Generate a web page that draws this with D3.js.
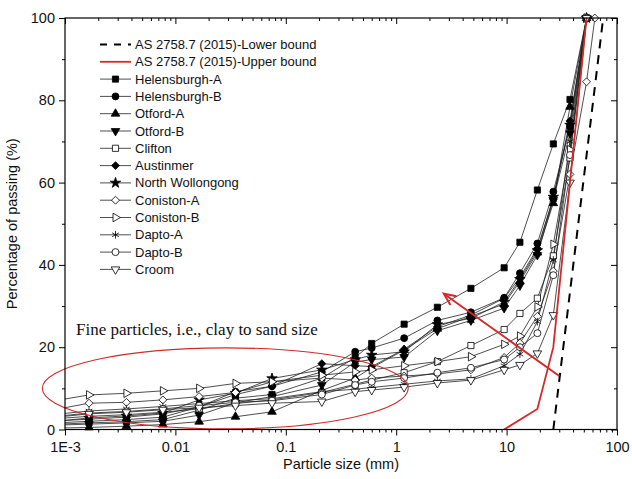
<!DOCTYPE html>
<html>
<head>
<meta charset="utf-8">
<script src="https://cdn.jsdelivr.net/npm/d3@7"></script>
<style>
  html, body { margin: 0; padding: 0; background: #fff; }
  svg { display: block; font-family: Arial, "Liberation Sans", sans-serif; }
</style>
</head>
<body>
<svg id="chart" width="632" height="479"></svg>
<script>
// Sieve / hydrometer sizes (mm) shared by every sample
const sizes = [0.0007, 0.00165, 0.0036, 0.0077, 0.0164, 0.035, 0.075, 0.212, 0.425, 0.6,
               1.18, 2.36, 4.75, 9.5, 13.2, 19, 26.5, 37.5, 53, 63];

// Percentage passing for each sample (null = not measured)
const helensburghA = [1.2, 1.6, 1.9, 2.4, 4.7, 7.6, 8.5, 12.5, 17.5, 20.9, 25.6, 29.7, 34.3, 39.3, 45.5, 58.2, 69.4, 80.2, 100, null];
const helensburghB = [1.5, 2.0, 2.4, 3.0, 5.5, 9.2, 10.5, 14.0, 18.9, 19.8, 22.2, 26.5, 28.5, 32.0, 38.0, 45.2, 57.8, 73.6, 100, null];
const otfordA      = [0.3, 0.5, 0.8, 1.2, 1.9, 3.1, 4.3, 9.5, 12.5, 15.0, 19.3, 24.5, 27.5, 30.5, 36.0, 43.0, 55.0, 78.4, 100, null];
const otfordB      = [1.0, 1.3, 1.6, 2.0, 3.5, 6.5, 8.0, 10.8, 16.4, 17.0, 17.6, 24.0, 26.5, 29.5, 35.0, 42.4, 55.8, 72.0, 100, null];
const clifton      = [2.5, 3.2, 3.6, 4.2, 5.0, 6.3, 7.2, 9.0, 11.0, 12.0, 13.8, 16.5, 20.4, 24.3, 28.2, 31.9, 42.2, 66.0, 100, null];
const austinmer    = [2.0, 2.5, 3.0, 3.8, 5.5, 8.5, 10.5, 16.0, 15.5, 15.3, 19.5, 25.0, 27.8, 31.9, 37.0, 44.0, 56.0, 75.0, 100, null];
const northWoll    = [1.8, 2.8, 3.3, 4.0, 7.2, 8.8, 12.4, 14.5, 17.0, 18.1, 18.9, 25.5, 27.0, 31.0, 36.5, 43.5, 56.5, 74.0, 100, null];
const conistonA    = [4.5, 6.4, 6.6, 7.2, 8.0, 9.0, 11.6, 12.5, 12.0, 12.5, 13.0, 13.5, 14.5, 17.5, 21.0, 27.5, 38.5, 62.0, 84.5, 100];
const conistonB    = [6.7, 8.4, 8.8, 9.4, 10.0, 11.2, 11.6, 13.2, 14.0, 14.5, 15.5, 16.5, 17.7, 20.7, 22.7, 29.8, 45.0, 68.0, 100, null];
const daptoA       = [3.5, 4.5, 5.0, 5.6, 6.3, 7.0, 7.5, 9.2, 9.8, 10.2, 11.0, 11.8, 12.3, 15.5, 18.3, 26.2, 41.2, 70.0, 100, null];
const daptoB       = [3.0, 4.0, 4.4, 5.0, 5.8, 6.6, 7.0, 8.5, 10.8, 11.6, 12.5, 13.8, 15.0, 17.0, 20.0, 23.4, 37.5, 66.7, 100, null];
const croom        = [2.8, 3.8, 4.2, 4.8, 5.3, 5.8, 6.4, 6.8, 9.2, 9.6, 10.3, 11.3, 12.0, 14.5, 15.7, 18.5, 27.8, 60.0, 100, null];

// AS 2758.7 (2015) grading envelope
const lowerBoundSize = [26.5, 75];
const lowerBoundPass = [0, 100];
const upperBoundSize = [9.5, 19, 26.5, 37.5, 53];
const upperBoundPass = [0, 5, 20, 60, 100];

const seriesNames = ["Helensburgh-A", "Helensburgh-B", "Otford-A", "Otford-B", "Clifton", "Austinmer",
                     "North Wollongong", "Coniston-A", "Coniston-B", "Dapto-A", "Dapto-B", "Croom"];
const seriesValues = [helensburghA, helensburghB, otfordA, otfordB, clifton, austinmer,
                      northWoll, conistonA, conistonB, daptoA, daptoB, croom];

const xTickValues = [0.001, 0.01, 0.1, 1, 10, 100];
const xTickLabels = ["1E-3", "0.01", "0.1", "1", "10", "100"];
const yTickValues = [0, 20, 40, 60, 80, 100];

const annotation = "Fine particles, i.e., clay to sand size";

// marker styles: [symbol type, filled, rotation]
const markerStyles = [
  [d3.symbolSquare, true, 0],
  [d3.symbolCircle, true, 0],
  [d3.symbolTriangle, true, 0],
  [d3.symbolTriangle, true, 180],
  [d3.symbolSquare, false, 0],
  [d3.symbolDiamond2, true, 0],
  [d3.symbolStar, true, 0],
  [d3.symbolDiamond2, false, 0],
  [d3.symbolTriangle, false, 90],
  [d3.symbolAsterisk, false, 0],
  [d3.symbolCircle, false, 0],
  [d3.symbolTriangle, false, 180]
];
function symbolSize(t) {
  if (t === d3.symbolSquare) return 38;
  if (t === d3.symbolCircle) return 38;
  if (t === d3.symbolTriangle) return 32;
  if (t === d3.symbolDiamond2) return 40;
  if (t === d3.symbolStar) return 34;
  return 42;
}

const svg = d3.select("#chart");
const plotL = 65, plotR = 617, plotT = 18, plotB = 429.5;

const x = d3.scaleLog().domain([0.001, 100]).range([plotL, plotR]);
const y = d3.scaleLinear().domain([0, 100]).range([plotB, plotT]);

svg.append("rect").attr("width", 632).attr("height", 479).attr("fill", "#fff");

svg.append("defs").append("clipPath").attr("id", "plotClip")
  .append("rect").attr("x", plotL).attr("y", plotT - 6).attr("width", plotR - plotL).attr("height", plotB - plotT + 6);

const plot = svg.append("g").attr("clip-path", "url(#plotClip)");

// sample curves
const line = d3.line()
  .defined(d => d[1] !== null)
  .x(d => x(d[0])).y(d => y(d[1]));

seriesValues.forEach(vals => {
  const pts = sizes.map((s, i) => [s, vals[i]]);
  plot.append("path").datum(pts)
    .attr("d", line)
    .attr("fill", "none")
    .attr("stroke", "#222")
    .attr("stroke-width", 0.8);
});

function drawMarker(g, style, cx, cy) {
  const [type, filled, rot] = style;
  g.append("path")
    .attr("d", d3.symbol().type(type).size(symbolSize(type))())
    .attr("transform", `translate(${cx},${cy}) rotate(${rot})`)
    .attr("fill", type === d3.symbolAsterisk ? "none" : (filled ? "#000" : "#fff"))
    .attr("stroke", "#000")
    .attr("stroke-width", 0.8);
}

const markerLayer = svg.append("g");
seriesValues.forEach((vals, k) => {
  sizes.forEach((s, i) => {
    if (vals[i] === null || s < 0.001) return;
    drawMarker(markerLayer, markerStyles[k], x(s), y(vals[i]));
  });
});

// grading envelope
const envLine = d3.line().x(d => x(d[0])).y(d => y(d[1]));
svg.append("path")
  .datum(upperBoundSize.map((s, i) => [s, upperBoundPass[i]]))
  .attr("d", envLine).attr("fill", "none")
  .attr("stroke", "#d42a2a").attr("stroke-width", 1.8);
svg.append("path")
  .datum(lowerBoundSize.map((s, i) => [s, lowerBoundPass[i]]))
  .attr("d", envLine).attr("fill", "none")
  .attr("stroke", "#000").attr("stroke-width", 2)
  .attr("stroke-dasharray", "9,7");

// fine-particle highlight and arrow
svg.append("ellipse")
  .attr("cx", x(0.0283)).attr("cy", y(10)).attr("rx", 183).attr("ry", 40.5)
  .attr("fill", "none").attr("stroke", "#d42a2a").attr("stroke-width", 1.1);

const arrowTail = [x(30), y(13)];
const arrowHead = [x(2.7), y(33)];
svg.append("line")
  .attr("x1", arrowTail[0]).attr("y1", arrowTail[1])
  .attr("x2", arrowHead[0]).attr("y2", arrowHead[1])
  .attr("stroke", "#d42a2a").attr("stroke-width", 2);
{
  const ang = Math.atan2(arrowTail[1] - arrowHead[1], arrowTail[0] - arrowHead[0]);
  const L = 13, spread = 0.42;
  const p1 = [arrowHead[0] + L * Math.cos(ang - spread), arrowHead[1] + L * Math.sin(ang - spread)];
  const p2 = [arrowHead[0] + L * Math.cos(ang + spread), arrowHead[1] + L * Math.sin(ang + spread)];
  svg.append("path")
    .attr("d", `M${p1[0]},${p1[1]} L${arrowHead[0]},${arrowHead[1]} L${p2[0]},${p2[1]}`)
    .attr("fill", "none").attr("stroke", "#d42a2a").attr("stroke-width", 2);
}

svg.append("text")
  .attr("x", 76).attr("y", 335)
  .attr("font-family", "'Liberation Serif', 'Times New Roman', serif")
  .attr("font-size", 17)
  .attr("fill", "#111")
  .text(annotation);

// axes
const minorX = [];
for (let e = -3; e < 2; e++) for (let m = 2; m <= 9; m++) minorX.push(m * Math.pow(10, e));
const minorY = [10, 30, 50, 70, 90];

const axisStyle = g => {
  g.select(".domain").remove();
  g.selectAll("line").attr("stroke", "#000").attr("stroke-width", 1);
  g.selectAll("text").attr("font-size", 14.5).attr("fill", "#111")
    .attr("font-family", "Arial, 'Liberation Sans', sans-serif");
};

svg.append("g").attr("transform", `translate(0,${plotB})`)
  .call(d3.axisBottom(x).tickValues(xTickValues).tickSize(6).tickPadding(6)
    .tickFormat((d, i) => xTickLabels[i]))
  .call(axisStyle);
svg.append("g").attr("transform", `translate(0,${plotB})`)
  .call(d3.axisBottom(x).tickValues(minorX).tickSize(3).tickFormat(""))
  .call(axisStyle);
svg.append("g").attr("transform", `translate(0,${plotT})`)
  .call(d3.axisBottom(x).tickValues(xTickValues).tickSize(6).tickFormat(""))
  .call(axisStyle);
svg.append("g").attr("transform", `translate(0,${plotT})`)
  .call(d3.axisBottom(x).tickValues(minorX).tickSize(3).tickFormat(""))
  .call(axisStyle);

svg.append("g").attr("transform", `translate(${plotL},0)`)
  .call(d3.axisLeft(y).tickValues(yTickValues).tickSize(6).tickPadding(4).tickFormat(d3.format("d")))
  .call(axisStyle);
svg.append("g").attr("transform", `translate(${plotL},0)`)
  .call(d3.axisLeft(y).tickValues(minorY).tickSize(3).tickFormat(""))
  .call(axisStyle);
svg.append("g").attr("transform", `translate(${plotR},0)`)
  .call(d3.axisLeft(y).tickValues(yTickValues).tickSize(6).tickFormat(""))
  .call(axisStyle);
svg.append("g").attr("transform", `translate(${plotR},0)`)
  .call(d3.axisLeft(y).tickValues(minorY).tickSize(3).tickFormat(""))
  .call(axisStyle);

svg.append("rect")
  .attr("x", plotL).attr("y", plotT).attr("width", plotR - plotL).attr("height", plotB - plotT)
  .attr("fill", "none").attr("stroke", "#000").attr("stroke-width", 1.2);

svg.append("text")
  .attr("x", 341).attr("y", 469).attr("text-anchor", "middle")
  .attr("font-size", 14.5).attr("fill", "#111")
  .text("Particle size (mm)");
svg.append("text")
  .attr("transform", `translate(17,${(plotT + plotB) / 2}) rotate(-90)`)
  .attr("text-anchor", "middle")
  .attr("font-size", 14.5).attr("fill", "#111")
  .text("Percentage of passing (%)");

// legend
const legend = svg.append("g");
const legendX0 = 100, legendX1 = 131, legendText = 135, legendY0 = 44.5, legendStep = 17.3;
const legendEntries = ["AS 2758.7 (2015)-Lower bound", "AS 2758.7 (2015)-Upper bound"].concat(seriesNames);
legendEntries.forEach((name, i) => {
  const ly = legendY0 + i * legendStep;
  if (i === 0) {
    legend.append("line").attr("x1", legendX0).attr("x2", legendX1).attr("y1", ly).attr("y2", ly)
      .attr("stroke", "#000").attr("stroke-width", 2).attr("stroke-dasharray", "7,7");
  } else if (i === 1) {
    legend.append("line").attr("x1", legendX0).attr("x2", legendX1).attr("y1", ly).attr("y2", ly)
      .attr("stroke", "#d42a2a").attr("stroke-width", 1.8);
  } else {
    legend.append("line").attr("x1", legendX0).attr("x2", legendX1).attr("y1", ly).attr("y2", ly)
      .attr("stroke", "#222").attr("stroke-width", 0.8);
    drawMarker(legend, markerStyles[i - 2], (legendX0 + legendX1) / 2, ly);
  }
  legend.append("text").attr("x", legendText).attr("y", ly).attr("dy", "0.35em")
    .attr("font-size", 13).attr("fill", "#111").text(name);
});
</script>
</body>
</html>
